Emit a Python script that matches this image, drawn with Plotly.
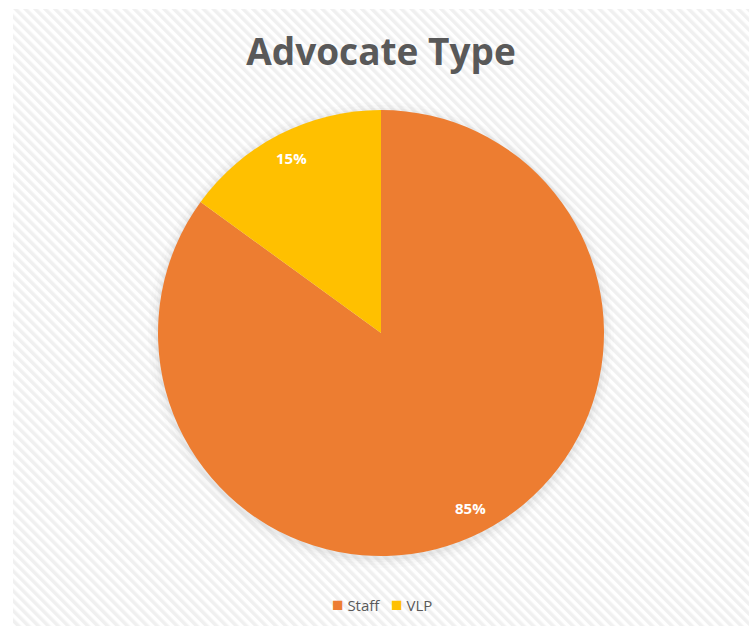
import plotly.graph_objects as go
import base64
import math

categories = ["Staff", "VLP"]
values = [85, 15]
colors = ["#ED7D31", "#FFC000"]

W, H = 749, 626

svg = (
    '<svg xmlns="http://www.w3.org/2000/svg" width="736" height="617">'
    '<defs><pattern id="p" width="7" height="7" patternUnits="userSpaceOnUse" '
    'patternTransform="rotate(-45)">'
    '<rect width="7" height="7" fill="#ffffff"/>'
    '<rect width="3.5" height="7" fill="#f0f0f0"/>'
    '</pattern></defs>'
    '<rect width="736" height="617" fill="url(#p)"/></svg>'
)
src = "data:image/svg+xml;base64," + base64.b64encode(svg.encode()).decode()

cx, cy, r = 381, 333, 223
dom_x = [(cx - r) / W, (cx + r) / W]
dom_y = [1 - (cy + r) / H, 1 - (cy - r) / H]

fig = go.Figure(go.Pie(
    labels=categories,
    values=values,
    marker=dict(colors=colors, line=dict(color="#ffffff", width=0)),
    sort=False,
    direction="clockwise",
    rotation=0,
    textinfo="none",
    domain=dict(x=dom_x, y=dom_y),
    hoverinfo="label+percent",
    showlegend=False,
))

# data labels placed along each slice's mid-angle (computed from the values)
total = sum(values)
annotations = []
start = 0.0
for lab, v in zip(categories, values):
    mid = (start + v / 2) / total * 2 * math.pi
    start += v
    lr = 0.88 * r
    px = cx + lr * math.sin(mid)
    py = cy - lr * math.cos(mid)
    annotations.append(dict(
        text=f"<b>{round(v / total * 100)}%</b>",
        x=px / W, y=1 - py / H, xref="paper", yref="paper",
        showarrow=False, xanchor="center", yanchor="middle",
        font=dict(family="Open Sans", size=15, color="#ffffff"),
    ))

# compact legend like the original
legend_text = "   ".join(
    f'<span style="color:{c};font-size:19px">■</span> {lab}' for lab, c in zip(categories, colors)
)
annotations.append(dict(
    text=legend_text, x=382 / W, y=1 - 604 / H, xref="paper", yref="paper",
    showarrow=False, xanchor="center", yanchor="middle",
    font=dict(family="Open Sans", size=15, color="#595959"),
))

shapes = []
for dr, op in [(10, 0.025), (7, 0.035), (4, 0.05), (2, 0.06)]:
    rr = r + dr
    shapes.append(dict(
        type="circle", xref="paper", yref="paper", layer="below",
        x0=(cx - rr) / W, x1=(cx + rr) / W,
        y0=1 - (cy + 2 + rr) / H, y1=1 - (cy + 2 - rr) / H,
        fillcolor="#808080", opacity=op, line=dict(width=0),
    ))

fig.update_layout(
    width=W, height=H,
    margin=dict(l=0, r=0, t=0, b=0),
    paper_bgcolor="#ffffff",
    plot_bgcolor="#ffffff",
    images=[dict(
        source=src, xref="paper", yref="paper",
        x=13 / W, y=1 - 9 / H, sizex=736 / W, sizey=617 / H,
        xanchor="left", yanchor="top", sizing="stretch", layer="below",
    )],
    shapes=shapes,
    annotations=annotations,
    title=dict(
        text="<b>Advocate Type</b>",
        x=381 / W, xanchor="center",
        y=1 - 52 / H, yanchor="middle",
        font=dict(family="Open Sans", size=37, color="#595959"),
    ),
    showlegend=False,
)

fig.write_html("out.html", config={"displayModeBar": False},
               post_script="document.body.style.margin='0';")
